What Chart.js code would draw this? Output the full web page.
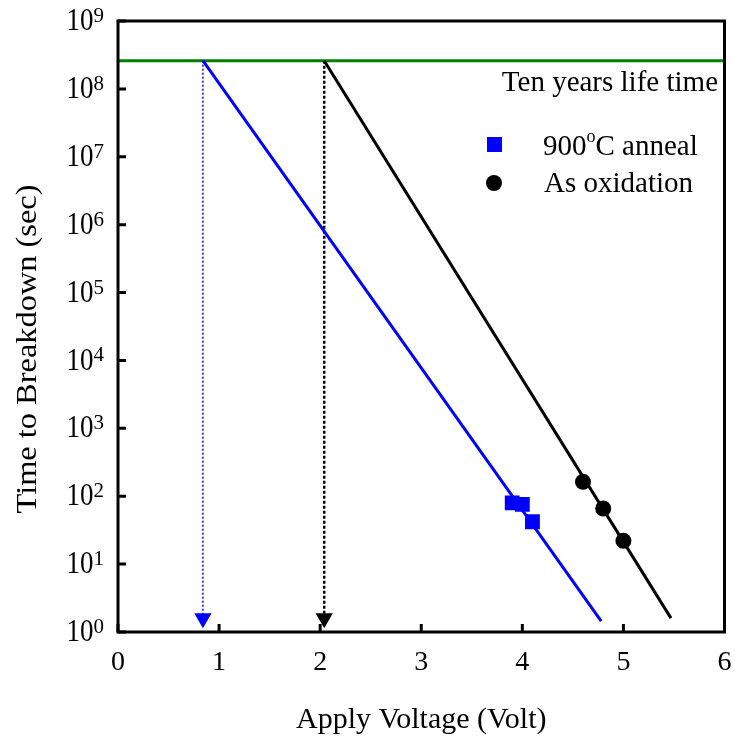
<!DOCTYPE html>
<html>
<head>
<meta charset="utf-8">
<script src="https://cdn.jsdelivr.net/npm/chart.js@4.4.1/dist/chart.umd.min.js"></script>
<style>
  html, body { margin: 0; padding: 0; background: #fff; }
  #wrap { width: 735px; height: 741px; }
</style>
</head>
<body>
<div id="wrap"><canvas id="myChart" width="735" height="741"></canvas></div>
<script>
// axis ticks
const xTicks = [0, 1, 2, 3, 4, 5, 6];
const yExponents = [0, 1, 2, 3, 4, 5, 6, 7, 8, 9];

// ten years life time (sec)
const tenYears = 2.6e8;

// measured points
const annealV = [3.9, 4.0, 4.1];
const annealT = [80, 76, 42];
const oxV = [4.6, 4.8, 5.0];
const oxT = [163, 66, 22];

// fitted lines
const annealFitV = [0.84, 4.78];
const annealFitT = [2.6e8, 1.45];
const oxFitV = [2.04, 5.47];
const oxFitT = [2.6e8, 1.6];

// projection to the voltage axis
const arrowV = [0.84, 2.04];
const arrowT = [1.6, 1.6];

const FONT = "'Liberation Serif', 'Times New Roman', serif";
const BLUE = "#0000ff";
const GREEN = "#008000";

function pts(xs, ys) {
  return xs.map((x, i) => ({ x: x, y: ys[i] }));
}

const framePlugin = {
  id: "frame",
  afterDraw(chart) {
    const ctx = chart.ctx;
    const a = chart.chartArea;
    const xs = chart.scales.x;
    const ys = chart.scales.y;
    ctx.save();

    // inward ticks
    ctx.strokeStyle = "#000";
    ctx.lineWidth = 3;
    ctx.beginPath();
    xTicks.forEach(v => {
      const px = xs.getPixelForValue(v);
      ctx.moveTo(px, a.bottom);
      ctx.lineTo(px, a.bottom - 8);
    });
    yExponents.forEach(e => {
      const py = ys.getPixelForValue(Math.pow(10, e));
      ctx.moveTo(a.left, py);
      ctx.lineTo(a.left + 8, py);
    });
    ctx.stroke();

    // frame
    ctx.lineWidth = 3;
    ctx.strokeRect(a.left, a.top, a.right - a.left, a.bottom - a.top);

    // x tick labels
    ctx.fillStyle = "#000";
    ctx.font = "28px " + FONT;
    ctx.textAlign = "center";
    ctx.textBaseline = "middle";
    xTicks.forEach(v => {
      ctx.fillText(String(v), xs.getPixelForValue(v), a.bottom + 31);
    });

    // y tick labels 10^n
    yExponents.forEach(e => {
      const py = ys.getPixelForValue(Math.pow(10, e));
      ctx.font = "21px " + FONT;
      ctx.textAlign = "right";
      ctx.textBaseline = "top";
      ctx.fillText(String(e), 104, py - 15);
      const ew = ctx.measureText(String(e)).width;
      ctx.save();
      ctx.translate(104 - ew, py + 1);
      ctx.scale(1, 1.15);
      ctx.font = "27px " + FONT;
      ctx.textBaseline = "middle";
      ctx.fillText("10", 0, 0);
      ctx.restore();
    });

    // axis titles
    ctx.font = "30px " + FONT;
    ctx.textAlign = "center";
    ctx.textBaseline = "middle";
    ctx.fillText("Apply Voltage (Volt)", (a.left + a.right) / 2, 720);
    ctx.save();
    ctx.translate(28, 349);
    ctx.rotate(-Math.PI / 2);
    ctx.scale(1.08, 1);
    ctx.fillText("Time to Breakdown (sec)", 0, 0);
    ctx.restore();

    // ten years label
    ctx.font = "29px " + FONT;
    ctx.textAlign = "right";
    ctx.fillText("Ten years life time", 718, 83);

    // legend
    ctx.fillStyle = BLUE;
    ctx.fillRect(487, 137, 15, 15);
    ctx.fillStyle = "#000";
    ctx.beginPath();
    ctx.arc(494, 183, 8, 0, Math.PI * 2);
    ctx.fill();

    ctx.textAlign = "left";
    ctx.textBaseline = "middle";
    ctx.font = "29px " + FONT;
    let tx = 543;
    ctx.fillText("900", tx, 147);
    tx += ctx.measureText("900").width;
    ctx.font = "18px " + FONT;
    ctx.fillText("o", tx, 137);
    tx += ctx.measureText("o").width;
    ctx.font = "29px " + FONT;
    ctx.fillText("C anneal", tx, 147);
    ctx.fillText("As oxidation", 544, 184);

    ctx.restore();
  }
};

const ctx = document.getElementById("myChart").getContext("2d");
const chart = new Chart(ctx, {
  type: "scatter",
  data: {
    datasets: [
      {
        type: "line",
        data: pts([0, 6], [tenYears, tenYears]),
        borderColor: GREEN,
        borderWidth: 3,
        pointRadius: 0,
        order: 5
      },
      {
        type: "line",
        data: pts([arrowV[0], arrowV[0]], [tenYears, arrowT[0]]),
        borderColor: BLUE,
        borderWidth: 1.5,
        borderDash: [2, 2],
        pointRadius: 0,
        order: 4
      },
      {
        type: "line",
        data: pts([arrowV[1], arrowV[1]], [tenYears, arrowT[1]]),
        borderColor: "#000",
        borderWidth: 2.5,
        borderDash: [3, 2],
        pointRadius: 0,
        order: 4
      },
      {
        type: "line",
        data: pts(annealFitV, annealFitT),
        borderColor: BLUE,
        borderWidth: 3,
        pointRadius: 0,
        order: 3
      },
      {
        type: "line",
        data: pts(oxFitV, oxFitT),
        borderColor: "#000",
        borderWidth: 3,
        pointRadius: 0,
        order: 3
      },
      {
        data: pts(annealV, annealT),
        pointStyle: "rect",
        pointRadius: 10.5,
        backgroundColor: BLUE,
        borderColor: BLUE,
        borderWidth: 0,
        order: 1
      },
      {
        data: pts(oxV, oxT),
        pointStyle: "circle",
        pointRadius: 8,
        backgroundColor: "#000",
        borderColor: "#000",
        borderWidth: 0,
        order: 1
      },
      {
        data: pts(arrowV, arrowT),
        pointStyle: "triangle",
        rotation: 180,
        pointRadius: 10,
        backgroundColor: [BLUE, "#000"],
        borderColor: [BLUE, "#000"],
        borderWidth: 0,
        order: 1
      }
    ]
  },
  plugins: [framePlugin],
  options: {
    responsive: false,
    animation: false,
    layout: { padding: { top: 21, right: 10, left: 0, bottom: 0 } },
    plugins: {
      legend: { display: false },
      tooltip: { enabled: false }
    },
    scales: {
      x: {
        type: "linear",
        min: 0,
        max: 6,
        grid: { display: false },
        border: { display: false },
        ticks: { display: false },
        afterFit(scale) { scale.height = 109; }
      },
      y: {
        type: "logarithmic",
        min: 1,
        max: 1e9,
        grid: { display: false },
        border: { display: false },
        ticks: { display: false },
        afterFit(scale) { scale.width = 118; }
      }
    }
  }
});
</script>
</body>
</html>
